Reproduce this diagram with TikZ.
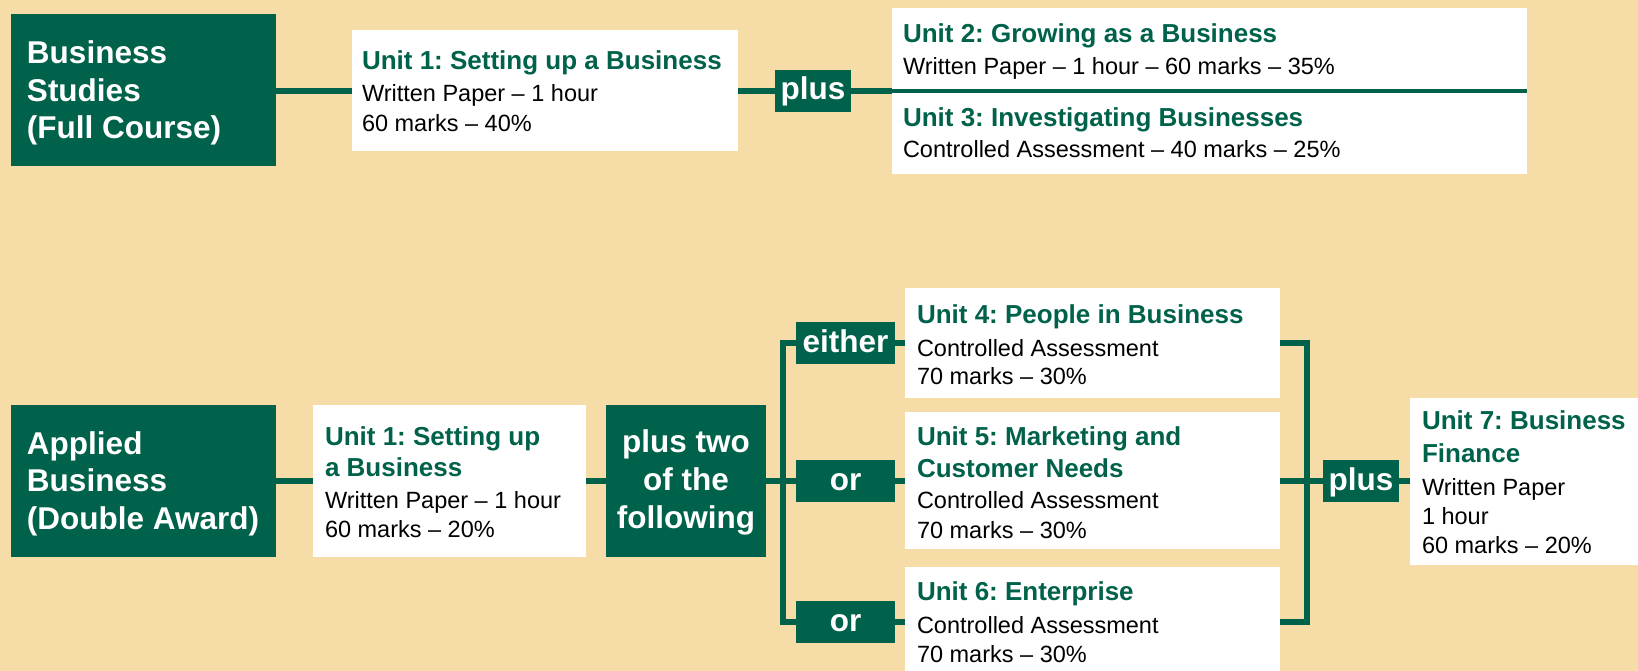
\documentclass[tikz,border=0pt]{standalone}
\usepackage{fontspec}
\setmainfont{Liberation Sans}
\frenchspacing
\definecolor{gbox}{RGB}{0,98,74}
\definecolor{bg}{RGB}{246,220,166}
\newcommand\LinesV[1]{\vtop{\lineskiplimit=-1000pt\relax #1}}
\newcommand\Tl[2]{\baselineskip=#1\relax\hbox{\fontsize{26pt}{26pt}\selectfont\bfseries\color{gbox}#2}}
\newcommand\Bd[2]{\baselineskip=#1\relax\hbox{\fontsize{23.5pt}{23.5pt}\selectfont\color{black}#2}}
\newcommand\Wt[2]{\baselineskip=#1\relax\hbox{\fontsize{31.5pt}{31.5pt}\selectfont\bfseries\color{white}#2}}
\newcommand\Wc[2]{\baselineskip=#1\relax\hbox to 160pt{\hfil\fontsize{31.5pt}{31.5pt}\selectfont\bfseries\color{white}#2\hfil}}
\tikzset{
  gb/.style={fill=gbox, inner sep=0pt, outer sep=0pt},
  wb/.style={fill=white, inner sep=0pt, outer sep=0pt},
  tag/.style={fill=gbox, text=white, font=\fontsize{31.5pt}{31.5pt}\selectfont\bfseries,
    inner sep=0pt, outer sep=0pt, text height=30pt, text depth=12pt, minimum height=42pt},
  conn/.style={draw=gbox, line width=5.5pt},
  divider/.style={draw=gbox, line width=3.5pt},
  txt/.style={inner sep=0pt, outer sep=0pt, anchor=base west},
  ctxt/.style={inner sep=0pt, outer sep=0pt, anchor=base},
}
\begin{document}
\begin{tikzpicture}[x=1pt, y=-1pt]
\useasboundingbox (0,0) rectangle (1638,671);
\fill[bg] (0,0) rectangle (1638,671);

% ---------- top row ----------
\node[gb, minimum width=265pt, minimum height=152pt] (bs) at (143.5,90) {};
\node[wb, minimum width=386pt, minimum height=121pt] (u1t) at (545,90.5) {};
\node[tag, minimum width=76pt] (p1) at (813,91) {plus};
\node[wb, minimum width=635pt, minimum height=166pt] (u23) at (1209.5,91) {};

% ---------- bottom row ----------
\node[gb, minimum width=265pt, minimum height=152pt] (ab) at (143.5,481) {};
\node[wb, minimum width=273pt, minimum height=152pt] (u1b) at (449.5,481) {};
\node[gb, minimum width=160pt, minimum height=152pt] (p2) at (686,481) {};
\node[tag, minimum width=99pt] (either) at (845.5,343) {either};
\node[tag, minimum width=99pt] (or1) at (845.5,481) {or};
\node[tag, minimum width=99pt] (or2) at (845.5,622) {or};
\node[wb, minimum width=375pt, minimum height=110pt] (u4) at (1092.5,343) {};
\node[wb, minimum width=375pt, minimum height=137pt] (u5) at (1092.5,480.5) {};
\node[wb, minimum width=375pt, minimum height=104pt] (u6) at (1092.5,619) {};
\node[tag, minimum width=76pt] (pl2) at (1361,481) {plus};
\node[wb, minimum width=228pt, minimum height=167pt] (u7) at (1524,481.5) {};

% ---------- connectors ----------
\draw[conn] (bs.east |- p1) -- (u1t.west |- p1);
\draw[conn] (u1t.east |- p1) -- (p1.west);
\draw[conn] (p1.east) -- (u23.west |- p1);
\draw[divider] (u23.west |- p1) -- (u23.east |- p1);

\draw[conn] (ab.east) -- (u1b.west);
\draw[conn] (u1b.east) -- (p2.west);
\draw[conn] (p2.east) -- (or1.west);
\coordinate (lb) at (783,481);
\draw[conn] (either.west) -- (either.west -| lb) -- (or2.west -| lb) -- (or2.west);
\draw[conn] (either.east) -- (u4.west |- either);
\draw[conn] (or1.east) -- (u5.west |- or1);
\draw[conn] (or2.east) -- (u6.west |- or2);
\coordinate (rb) at (1307,481);
\draw[conn] (u4.east |- either) -- (either -| rb) -- (or2 -| rb) -- (u6.east |- or2);
\draw[conn] (u5.east |- or1) -- (pl2.west);
\draw[conn] (pl2.east) -- (u7.west |- pl2);

% ---------- texts ----------
\node[txt] (bst) at (27,64) {\LinesV{\Wt{0pt}{Business}\Wt{37.5pt}{Studies}\Wt{37.5pt}{(Full Course)}}};
\node[txt] (u1tt) at (362,70) {\LinesV{\Tl{0pt}{Unit 1: Setting up a Business}\Bd{31.7pt}{Written Paper – 1 hour}\Bd{30pt}{60 marks – 40\%}}};
\node[txt] (u2t) at (903,43) {\LinesV{\Tl{0pt}{Unit 2: Growing as a Business}\Bd{32pt}{Written Paper – 1 hour – 60 marks – 35\%}}};
\node[txt] (u3t) at (903,127) {\LinesV{\Tl{0pt}{Unit 3: Investigating Businesses}\Bd{31pt}{Controlled Assessment – 40 marks – 25\%}}};

\node[txt] (abt) at (27,454) {\LinesV{\Wt{0pt}{Applied}\Wt{37.5pt}{Business}\Wt{37.5pt}{(Double Award)}}};
\node[txt] (u1bt) at (325,445) {\LinesV{\Tl{0pt}{Unit 1: Setting up}\Tl{31pt}{a Business}\Bd{32pt}{Written Paper – 1 hour}\Bd{29pt}{60 marks – 20\%}}};
\node[ctxt] (p2t) at (686,452) {\LinesV{\Wc{0pt}{plus two}\Wc{38pt}{of the}\Wc{38pt}{following}}};
\node[txt] (u4t) at (917,323) {\LinesV{\Tl{0pt}{Unit 4: People in Business}\Bd{33pt}{Controlled Assessment}\Bd{28.5pt}{70 marks – 30\%}}};
\node[txt] (u5t) at (917,445) {\LinesV{\Tl{0pt}{Unit 5: Marketing and}\Tl{32pt}{Customer Needs}\Bd{31pt}{Controlled Assessment}\Bd{30pt}{70 marks – 30\%}}};
\node[txt] (u6t) at (917,600) {\LinesV{\Tl{0pt}{Unit 6: Enterprise}\Bd{33pt}{Controlled Assessment}\Bd{29.5pt}{70 marks – 30\%}}};
\node[txt] (u7t) at (1422,429) {\LinesV{\Tl{0pt}{Unit 7: Business}\Tl{33pt}{Finance}\Bd{33pt}{Written Paper}\Bd{29pt}{1 hour}\Bd{29pt}{60 marks – 20\%}}};
\end{tikzpicture}
\end{document}
